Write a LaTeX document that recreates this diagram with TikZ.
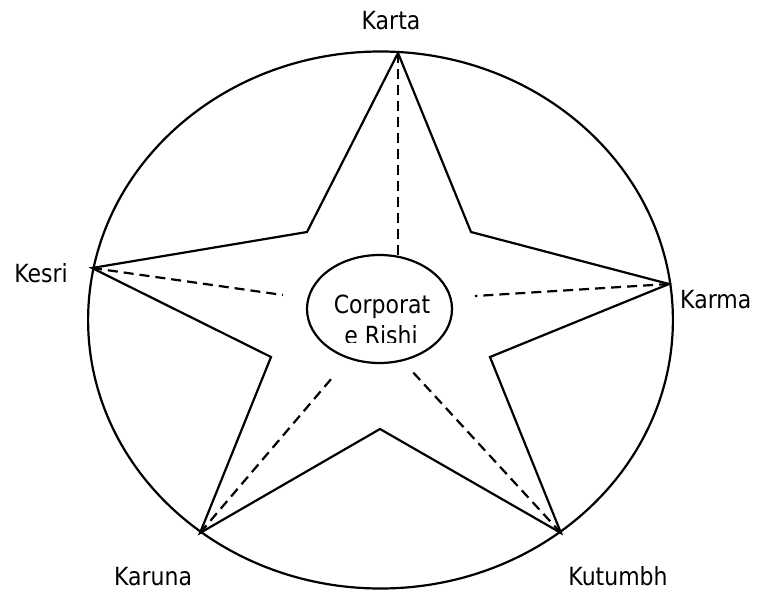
\documentclass[tikz,border=0pt]{standalone}
\usepackage{fontspec}
\setmainfont{DejaVu Sans}[FakeStretch=0.88]
\begin{document}
\begin{tikzpicture}[x=1pt,y=-1pt,
  solidline/.style={line width=2.2pt, line join=miter},
  dashline/.style={line width=2.2pt, dash pattern=on 10pt off 6pt},
  lbl/.style={font=\fontsize{25}{30}\selectfont, inner sep=0pt, anchor=base}]
\useasboundingbox (0,0) rectangle (758,591);
% outer vertices
\coordinate (T) at (398,53);
\coordinate (R) at (669,284);
\coordinate (BR) at (561,533);
\coordinate (BL) at (200,533);
\coordinate (L) at (92,268);
% inner vertices
\coordinate (iUR) at (471,232);
\coordinate (iLR) at (490,357);
\coordinate (iB) at (380,429);
\coordinate (iLL) at (271,357);
\coordinate (iUL) at (307,232);
% centre
\coordinate (C) at (379.5,309);
% dashed line ends
\coordinate (eT) at (398,256);
\coordinate (eL) at (283,295);
\coordinate (eR) at (475,296);
\coordinate (eBL) at (332,378);
\coordinate (eBR) at (410,369);
% big ellipse
\draw[solidline] (380.5,320) ellipse [x radius=292.4, y radius=268.5];
% star
\draw[solidline] (T) -- (iUR) -- (R) -- (iLR) -- (BR) -- (iB) -- (BL) -- (iLL) -- (L) -- (iUL) -- cycle;
% dashed spokes
\draw[dashline] (T) -- (eT);
\draw[dashline] (L) -- (eL);
\draw[dashline] (R) -- (eR);
\draw[dashline] (BL) -- (eBL);
\draw[dashline] (BR) -- (eBR);
% centre ellipse
\draw[solidline, fill=white] (C) ellipse [x radius=72.5, y radius=54];
\begin{scope}
\clip (300,280) rectangle (460,342);
\node[lbl] (corp1) at (382,313) {Corporat};
\node[lbl] (corp2) at (381,344) {e Rishi};
\end{scope}
% labels
\node[lbl] (karta) at (391,30) {Karta};
\node[lbl] (kesri) at (41,282) {Kesri};
\node[lbl, anchor=base west] (karma) at (680,308) {Karma};
\node[lbl] (karuna) at (153,585) {Karuna};
\node[lbl] (kutumbh) at (618,585) {Kutumbh};
\end{tikzpicture}
\end{document}
